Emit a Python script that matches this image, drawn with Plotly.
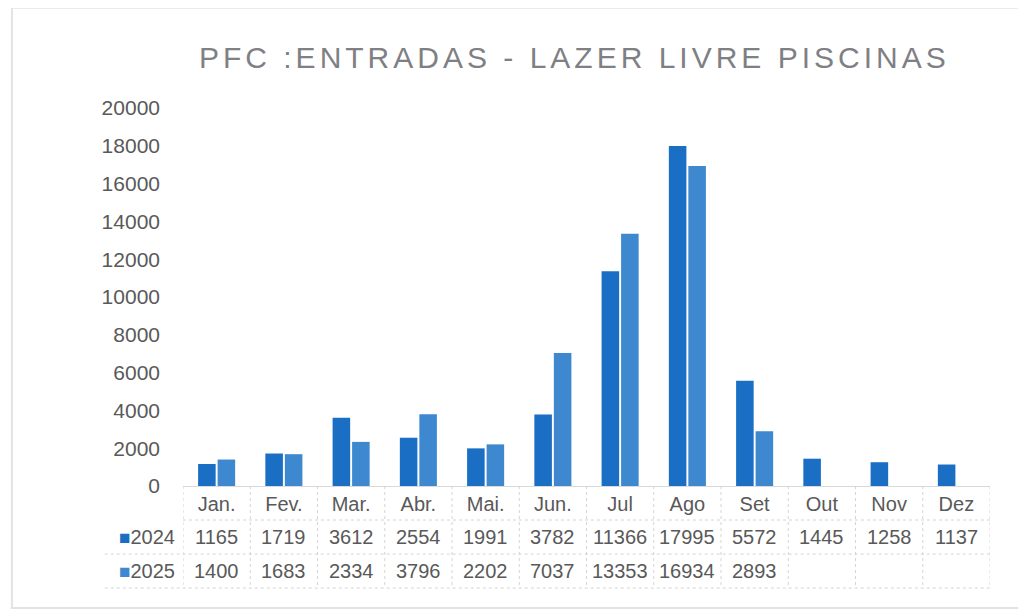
import plotly.graph_objects as go

# dados
meses = ["Jan.", "Fev.", "Mar.", "Abr.", "Mai.", "Jun.", "Jul", "Ago", "Set", "Out", "Nov", "Dez"]
entradas_2024 = [1165, 1719, 3612, 2554, 1991, 3782, 11366, 17995, 5572, 1445, 1258, 1137]
entradas_2025 = [1400, 1683, 2334, 3796, 2202, 7037, 13353, 16934, 2893, None, None, None]
anos = ["2024", "2025"]
cores = ["#1a6fc4", "#3d88cf"]
y_ticks = list(range(0, 20001, 2000))

fonte = "Liberation Sans, Arial, sans-serif"
cinza_txt = "#595959"

fig = go.Figure()
for ano, vals, cor in zip(anos, [entradas_2024, entradas_2025], cores):
    fig.add_trace(go.Bar(x=meses, y=vals, name=ano, marker=dict(color=cor, line=dict(width=0)),
                         hoverinfo="x+y+name"))

# --- tabela de dados debaixo do eixo ---
linhas_y = [-0.135, -0.225]
anot = []
for row, (ano, vals, cor) in enumerate(zip(anos, [entradas_2024, entradas_2025], cores)):
    yy = linhas_y[row]
    anot.append(dict(x=-0.007, y=yy, xref="paper", yref="paper", xanchor="right", yanchor="middle",
                     text=f"<span style='color:{cor};font-size:19px'>■</span>{ano}", showarrow=False,
                     font=dict(size=20, color=cinza_txt, family=fonte)))
    for m, v in zip(meses, vals):
        if v is None:
            continue
        anot.append(dict(x=m, y=yy, xref="x", yref="paper", xanchor="center", yanchor="middle",
                         text=str(v), showarrow=False, font=dict(size=20, color=cinza_txt, family=fonte)))

linha = dict(color="#d4d4d4", width=1, dash="dot")
shapes = []
# linhas horizontais da tabela
for yy, x0 in [(-0.09, 0.0), (-0.18, -0.097), (-0.27, -0.097)]:
    shapes.append(dict(type="line", xref="paper", yref="paper", x0=x0, x1=1.0, y0=yy, y1=yy, line=linha))
# linhas verticais da tabela
for i in range(len(meses) + 1):
    shapes.append(dict(type="line", xref="x", yref="paper", x0=i - 0.5, x1=i - 0.5, y0=0, y1=-0.27, line=linha))
# moldura do gráfico
shapes.append(dict(type="rect", xref="paper", yref="paper", x0=-0.212, x1=1.04, y0=-0.323, y1=1.265,
                   line=dict(color="#e3e3e3", width=2)))

fig.update_layout(
    width=1026, height=616,
    paper_bgcolor="white", plot_bgcolor="white",
    margin=dict(l=175, r=44, t=100, b=138),
    title=dict(text="<span style='letter-spacing:4px'>PFC :ENTRADAS - LAZER LIVRE PISCINAS</span>",
               x=0.552, xanchor="center", y=0.92, yanchor="middle",
               font=dict(size=30, color="#7f8084", family=fonte)),
    barmode="group", bargap=0.42, bargroupgap=0.1,
    showlegend=False,
    annotations=anot,
    shapes=shapes,
    xaxis=dict(range=[-0.5, len(meses) - 0.5], showline=True, linecolor="#d9d9d9", linewidth=1, ticks="",
               showgrid=False, tickfont=dict(size=20, color=cinza_txt, family=fonte)),
    yaxis=dict(range=[0, 20000], tickvals=y_ticks, ticktext=[str(v) for v in y_ticks], showgrid=False,
               zeroline=False, showline=False,
               tickfont=dict(size=21, color=cinza_txt, family=fonte), ticklabelstandoff=22),
)

fig.write_html("out.html")
